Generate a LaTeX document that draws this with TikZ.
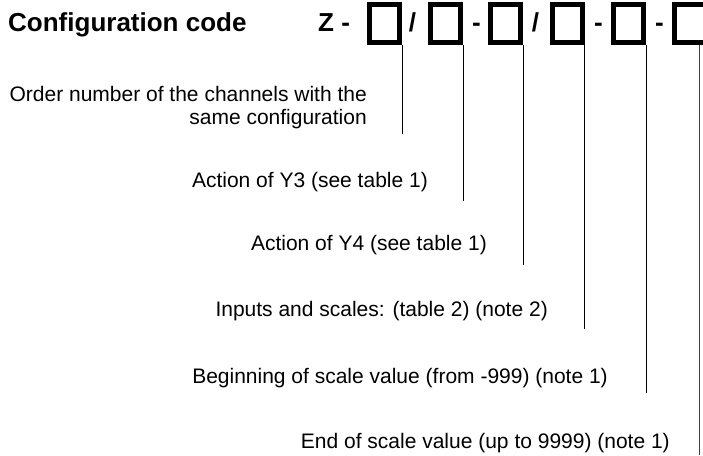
\documentclass[tikz,border=0pt]{standalone}
\usepackage{fontspec}
\setmainfont{Liberation Sans}
\begin{document}
\begin{tikzpicture}[x=1pt,y=-1pt,
  codebox/.style={draw,line width=5pt,minimum width=30pt,minimum height=37.5pt,inner sep=0pt},
  boldtxt/.style={font=\fontsize{26}{30}\selectfont\bfseries,inner sep=0pt},
  sepchar/.style={boldtxt,anchor=base},
  lab/.style={font=\fontsize{21}{24}\selectfont,anchor=base east,inner sep=0pt},
  lead/.style={line width=1pt}]
\useasboundingbox (0,0) rectangle (703,455);
\clip (0,0) rectangle (703,455);
% title
\node[boldtxt,anchor=base west] (title) at (8,31) {Configuration code};
\node[boldtxt,anchor=base west] (z) at (318,31) {Z -};
% code boxes
\node[codebox] (b1) at (384.5,23.5) {};
\node[codebox] (b2) at (445.5,23.5) {};
\node[codebox] (b3) at (505.5,23.5) {};
\node[codebox] (b4) at (567,23.5) {};
\node[codebox] (b5) at (628.5,23.5) {};
\node[codebox,minimum width=40pt] (b6) at (694.5,23.5) {};
% separators
\node[sepchar] (s1) at (412.5,31) {/};
\node[sepchar] (s2) at (476.5,31) {-};
\node[sepchar] (s3) at (535.5,31) {/};
\node[sepchar] (s4) at (598.5,31) {-};
\node[sepchar] (s5) at (659.5,31) {-};
% labels
\node[lab] (t1a) at (367,101) {Order number of the channels with the};
\node[lab] (t1b) at (367,124) {same configuration};
\node[lab] (t2) at (428,187) {Action of Y3 (see table 1)};
\node[lab] (t3) at (487,250) {Action of Y4 (see table 1)};
\node[lab] (t4) at (548,316) {Inputs and scales: (table 2) (note 2)};
\node[lab] (t5) at (608,383) {Beginning of scale value (from -999) (note 1)};
\node[lab] (t6) at (670,448) {End of scale value (up to 9999) (note 1)};
% leader ends
\coordinate (e1) at (402,134);
\coordinate (e2) at (463,201);
\coordinate (e3) at (522,265);
\coordinate (e4) at (583,329);
\coordinate (e5) at (644,393);
\coordinate (e6) at (699,455);
% leaders
\draw[lead] (b1.south east) -- (b1.south east |- e1);
\draw[lead] (b2.south east) -- (b2.south east |- e2);
\draw[lead] (b3.south east) -- (b3.south east |- e3);
\draw[lead] (b4.south east) -- (b4.south east |- e4);
\draw[lead] (b5.south east) -- (b5.south east |- e5);
\draw[lead,black!75] (e6 |- b6.south) -- (e6);
\end{tikzpicture}
\end{document}
